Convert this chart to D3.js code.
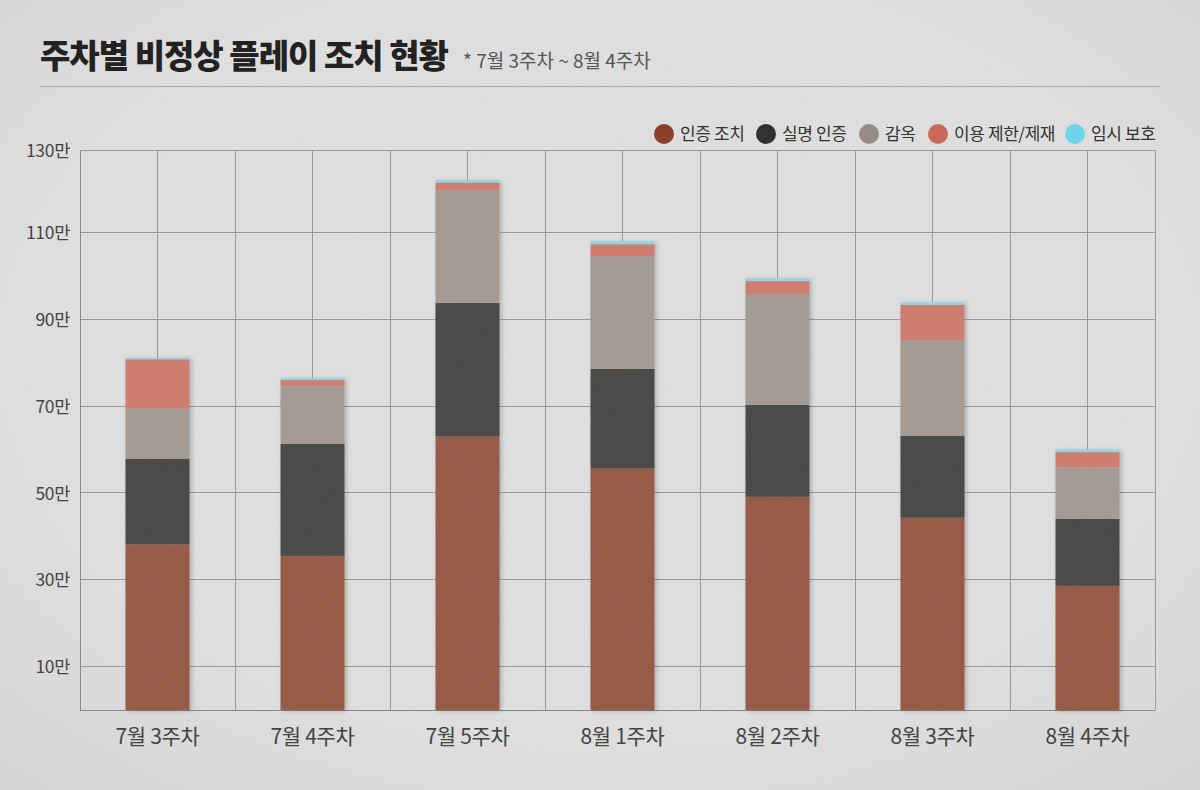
<!DOCTYPE html>
<html>
<head>
<meta charset="utf-8">
<title>주차별 비정상 플레이 조치 현황</title>
<script src="https://cdn.jsdelivr.net/npm/d3@7"></script>
<style>
  body { margin: 0; background: #dcdcdc; }
  text { font-family: "Noto Sans CJK KR", "Noto Sans", sans-serif; }
</style>
</head>
<body>
<script>
// weeks on the x axis
const weeks = ["7월 3주차", "7월 4주차", "7월 5주차", "8월 1주차", "8월 2주차", "8월 3주차", "8월 4주차"];
// series, unit = 만 (10,000)
const seriesNames = ["인증 조치", "실명 인증", "감옥", "이용 제한/제재", "임시 보호"];
const authAction = [38.2, 35.5, 63.0, 55.6, 49.1, 44.3, 28.6];
const realName   = [19.7, 25.8, 30.8, 23.0, 21.2, 18.9, 15.4];
const jail       = [11.6, 13.4, 26.0, 26.0, 25.5, 22.0, 11.9];
const restrict   = [11.3, 1.3, 1.7, 2.7, 3.0, 8.1, 3.5];
const tempProtect = [0.4, 0.5, 0.6, 0.7, 0.6, 0.6, 0.6];
const yTicks = [10, 30, 50, 70, 90, 110, 130];

const barColors = ["#955944", "#494744", "#a39a94", "#cf7c6e", "#8fd6e6"];
const legendColors = ["#8b402c", "#333230", "#978b84", "#c8695b", "#6ed4ea"];

const width = 1200, height = 790;
const margin = { left: 80, right: 45, top: 150, bottom: 80 };
const plotRight = width - margin.right;

let svg = d3.select("body").append("svg")
    .attr("width", width)
    .attr("height", height);

let defs = svg.append("defs");
// paper texture
let paper = defs.append("filter").attr("id", "paper")
    .attr("x", 0).attr("y", 0).attr("width", "100%").attr("height", "100%");
paper.append("feTurbulence").attr("type", "fractalNoise")
    .attr("baseFrequency", 0.8).attr("numOctaves", 2).attr("seed", 4);
paper.append("feColorMatrix").attr("type", "matrix")
    .attr("values", "0 0 0 0 0.5  0 0 0 0 0.5  0 0 0 0 0.5  0 0 0 0.12 0");
let shadow = defs.append("filter").attr("id", "shadow")
    .attr("x", "-20%").attr("y", "-5%").attr("width", "140%").attr("height", "110%");
shadow.append("feDropShadow").attr("dx", 2).attr("dy", 1)
    .attr("stdDeviation", 2).attr("flood-color", "#000").attr("flood-opacity", 0.22);
let vign = defs.append("radialGradient").attr("id", "vign")
    .attr("cx", "50%").attr("cy", "45%").attr("r", "75%");
vign.append("stop").attr("offset", "65%").attr("stop-color", "#000").attr("stop-opacity", 0);
vign.append("stop").attr("offset", "100%").attr("stop-color", "#000").attr("stop-opacity", 0.04);

svg.append("rect").attr("width", width).attr("height", height).attr("fill", "#e0e0e0");
svg.append("rect").attr("width", width).attr("height", height).attr("filter", "url(#paper)");
svg.append("rect").attr("width", width).attr("height", height).attr("fill", "url(#vign)");

// title
svg.append("text")
    .attr("x", 40).attr("y", 68)
    .attr("font-size", 33).attr("font-weight", 900)
    .attr("letter-spacing", -1)
    .attr("fill", "#222")
    .text("주차별 비정상 플레이 조치 현황");
svg.append("text")
    .attr("x", 463).attr("y", 68)
    .attr("font-size", 19).attr("letter-spacing", 0)
    .attr("fill", "#555")
    .text("* 7월 3주차 ~ 8월 4주차");
svg.append("line")
    .attr("x1", 40).attr("x2", 1160).attr("y1", 86.5).attr("y2", 86.5)
    .attr("stroke", "#a8a8a8").attr("stroke-width", 1.2);

// scales (last band is cut by the frame, as in the original)
let x = d3.scaleBand().domain(weeks)
    .range([margin.left, margin.left + 155 * weeks.length])
    .paddingInner(0.587).paddingOuter(0.2935);
let step = x.step();
let y = d3.scaleLinear().domain([0, 129])
    .range([height - margin.bottom, margin.top]).clamp(true);

// stack
let table = weeks.map(function (w, i) {
    return { week: w, "인증 조치": authAction[i], "실명 인증": realName[i], "감옥": jail[i],
             "이용 제한/제재": restrict[i], "임시 보호": tempProtect[i] };
});
let stacked = d3.stack().keys(seriesNames)(table);
let totals = table.map(function (d) {
    return d3.sum(seriesNames, function (k) { return d[k]; });
});

// grid
let grid = svg.append("g").attr("class", "grid")
    .attr("stroke", "#9a9a9a").attr("stroke-width", 1).attr("shape-rendering", "crispEdges");
grid.selectAll("line.h").data(yTicks).enter().append("line")
    .attr("class", "h")
    .attr("x1", margin.left).attr("x2", plotRight)
    .attr("y1", function (d) { return y(d); }).attr("y2", function (d) { return y(d); });
// band boundaries
let bounds = weeks.map(function (w) { return x(w) - step * 0.2935; });
bounds.push(plotRight);
grid.selectAll("line.vb").data(bounds).enter().append("line")
    .attr("class", "vb")
    .attr("x1", function (d) { return d; }).attr("x2", function (d) { return d; })
    .attr("y1", y(130)).attr("y2", y(0));
// center lines down to the bar tops
grid.selectAll("line.vc").data(weeks).enter().append("line")
    .attr("class", "vc")
    .attr("x1", function (d) { return x(d) + x.bandwidth() / 2; })
    .attr("x2", function (d) { return x(d) + x.bandwidth() / 2; })
    .attr("y1", y(130))
    .attr("y2", function (d, i) { return y(totals[i]); });
svg.append("line")
    .attr("x1", margin.left).attr("x2", plotRight)
    .attr("y1", y(0)).attr("y2", y(0))
    .attr("stroke", "#8a8a8a").attr("shape-rendering", "crispEdges");

// bars
let barsG = svg.append("g").attr("filter", "url(#shadow)");
barsG.selectAll("g.layer").data(stacked).enter().append("g")
    .attr("class", "layer")
    .attr("fill", function (d, i) { return barColors[i]; })
    .selectAll("rect").data(function (d) { return d; }).enter().append("rect")
    .attr("x", function (d) { return x(d.data.week); })
    .attr("width", x.bandwidth())
    .attr("y", function (d) { return y(d[1]); })
    .attr("height", function (d) { return y(d[0]) - y(d[1]); });
// texture on bars
barsG.selectAll("rect.tex").data(weeks).enter().append("rect")
    .attr("class", "tex")
    .attr("x", function (d) { return x(d); })
    .attr("width", x.bandwidth())
    .attr("y", function (d, i) { return y(totals[i]); })
    .attr("height", function (d, i) { return y(0) - y(totals[i]); })
    .attr("filter", "url(#paper)").attr("opacity", 0.6);

// y axis
let yAxis = d3.axisLeft(y).tickValues(yTicks).tickSize(0).tickPadding(10)
    .tickFormat(function (d) { return d + "만"; });
let yg = svg.append("g").attr("transform", "translate(" + margin.left + ",0)").call(yAxis);
yg.select(".domain").attr("stroke", "#8a8a8a").attr("shape-rendering", "crispEdges");
yg.selectAll("text").attr("font-size", 17.5).attr("letter-spacing", -0.3)
    .attr("fill", "#444").attr("dy", "0.35em")
    .style("font-family", "\"Noto Sans CJK KR\", sans-serif");

// x axis
let xAxis = d3.axisBottom(x).tickSize(0).tickPadding(19);
let xg = svg.append("g").attr("transform", "translate(0," + y(0) + ")").call(xAxis);
xg.select(".domain").remove();
xg.selectAll("text").attr("font-size", 21).attr("letter-spacing", -0.3)
    .attr("fill", "#444")
    .style("font-family", "\"Noto Sans CJK KR\", sans-serif");

// legend
let legendX = [664, 766, 869, 938, 1075];
let legend = svg.append("g").selectAll("g").data(seriesNames).enter().append("g")
    .attr("transform", function (d, i) { return "translate(" + legendX[i] + ",134)"; });
legend.append("circle").attr("r", 10)
    .attr("fill", function (d, i) { return legendColors[i]; });
legend.append("text").attr("x", 16).attr("dy", "0.35em")
    .attr("font-size", 17).attr("letter-spacing", -0.4).attr("fill", "#333")
    .text(function (d) { return d; });
</script>
</body>
</html>
